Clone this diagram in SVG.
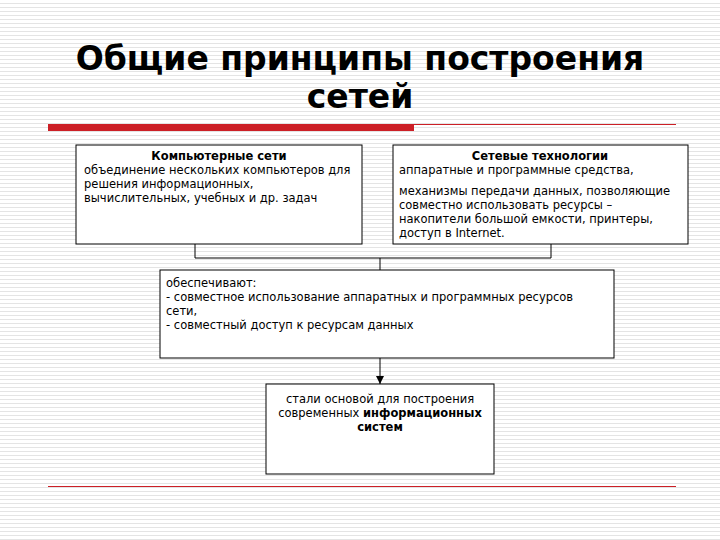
<svg xmlns="http://www.w3.org/2000/svg" width="720" height="540" viewBox="0 0 720 540">
<defs>
<pattern id="st" width="8" height="4" patternUnits="userSpaceOnUse"><rect width="8" height="4" fill="#fff"/><rect y="3" width="8" height="1" fill="#e4e4e4"/></pattern>
<marker id="ar" markerWidth="8" markerHeight="8" refX="8" refY="4" orient="auto" markerUnits="userSpaceOnUse"><path d="M0,0 L8,4 L0,8 Z" fill="#000"/></marker>
<style>
.b{fill:#fff;stroke:#000;stroke-width:1}
.t{font-family:"DejaVu Sans",sans-serif;font-size:11.5px;fill:#000}
.h{font-weight:bold}
.c{fill:none;stroke:#000;stroke-width:1}
</style>
</defs>
<rect width="720" height="540" fill="url(#st)"/>
<g id="title" font-family="DejaVu Sans, sans-serif" font-weight="bold" font-size="33" text-anchor="middle" fill="#000">
<text x="360" y="70">Общие принципы построения</text>
<text x="360" y="108">сетей</text>
</g>
<rect x="48" y="124" width="366" height="7" fill="#cc1f26"/>
<line x1="414" y1="124.5" x2="676" y2="124.5" stroke="#cc1f26" stroke-width="1"/>
<line x1="48" y1="486.5" x2="676" y2="486.5" stroke="#cc1f26" stroke-width="1"/>
<g id="connectors">
<path class="c" d="M195,244 V258 H551 V244 M380,258 V270"/>
<path class="c" d="M380,358 V384" marker-end="url(#ar)"/>
</g>
<g id="n1"><rect class="b" x="76" y="145" width="286" height="99"/>
<text class="t h" x="219" y="160" text-anchor="middle">Компьютерные сети</text>
<text class="t" x="84" y="174">объединение нескольких компьютеров для</text>
<text class="t" x="84" y="188">решения информационных,</text>
<text class="t" x="84" y="202">вычислительных, учебных и др. задач</text></g>
<g id="n2"><rect class="b" x="393" y="145" width="295" height="99"/>
<text class="t h" x="540" y="160" text-anchor="middle">Сетевые технологии</text>
<text class="t" x="399" y="174">аппаратные и программные средства,</text>
<text class="t" x="399" y="195">механизмы передачи данных,  позволяющие</text>
<text class="t" x="399" y="209">совместно использовать ресурсы –</text>
<text class="t" x="399" y="223">накопители большой емкости, принтеры,</text>
<text class="t" x="399" y="237">доступ в Internet.</text></g>
<g id="n3"><rect class="b" x="160" y="270" width="454" height="88"/>
<text class="t" x="166" y="287">обеспечивают:</text>
<text class="t" x="166" y="301">- совместное использование аппаратных и программных ресурсов</text>
<text class="t" x="166" y="315">сети,</text>
<text class="t" x="166" y="329">- совместный доступ к ресурсам данных</text></g>
<g id="n4"><rect class="b" x="266" y="384" width="228" height="90"/>
<text class="t" x="380" y="403" text-anchor="middle">стали основой для построения</text>
<text class="t" x="380" y="417" text-anchor="middle">современных <tspan class="h">информационных</tspan></text>
<text class="t h" x="380" y="431" text-anchor="middle">систем</text></g>
</svg>
